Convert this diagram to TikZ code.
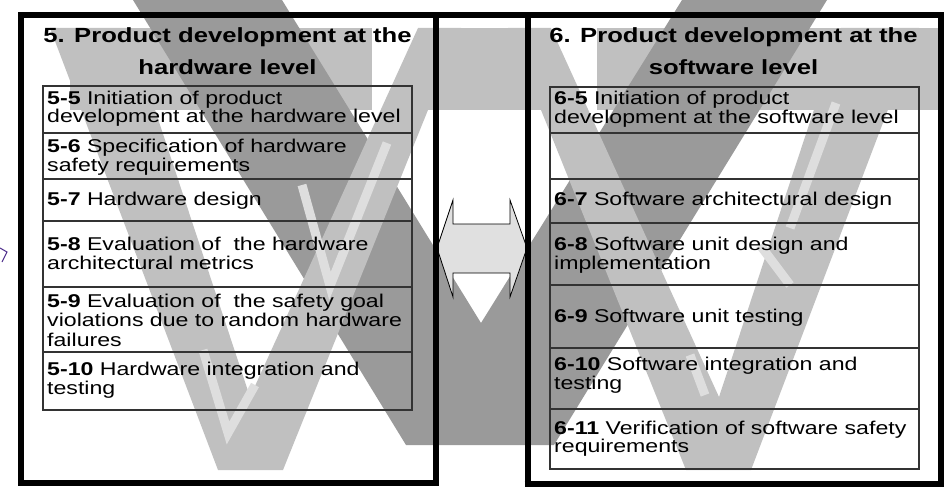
\documentclass[tikz,border=0pt]{standalone}
\usepackage{fontspec}
\setmainfont{Liberation Sans}[FakeStretch=1.25]
\definecolor{lightg}{HTML}{C0C0C0}
\definecolor{darkg}{HTML}{9A9A9A}
\definecolor{paleg}{HTML}{DEDEDE}
\definecolor{arrowg}{HTML}{E0E0E0}
\definecolor{purp}{HTML}{4B2A8A}
\begin{document}
\begin{tikzpicture}[x=1pt,y=-1pt,
  tabline/.style={draw=black!80, line width=1.2pt},
  frameline/.style={draw=black, line width=6pt},
  body/.style={anchor=base west, inner sep=0pt, font=\fontsize{18.5}{19}\selectfont},
  head/.style={anchor=base, inner sep=0pt, font=\fontsize{20.5}{24}\selectfont\bfseries},
  palev/.style={draw=paleg, line width=9pt},
]
\useasboundingbox (0,0) rectangle (946,487);
% ---------- background watermark ----------
% top bands
\fill[lightg] (70,28) rectangle (372,110);
\fill[lightg] (418,28) rectangle (551,110);
\fill[lightg] (597,28) rectangle (941,110);
% large dark V
\fill[darkg] (133,0) -- (282,0) -- (481,323) -- (682,0) -- (827,0) -- (554,445) -- (406,445) -- cycle;
% light V, left panel
\fill[lightg] (50,28) -- (128,28) -- (250,397) -- (418,28) -- (461,28) -- (283,470) -- (218,470) -- cycle;
% light V, right panel
\fill[lightg] (919,28) -- (841,28) -- (719,397) -- (551,28) -- (508,28) -- (686,470) -- (751,470) -- cycle;
% pale small V strokes
\draw[palev] (302,185) -- (330,286) -- (387,143);
\draw[palev] (203,350) -- (228,433) -- (255,385);
\draw[palev] (836,103) -- (790,228);
\draw[palev] (760,245) -- (790,285);
\draw[palev] (690,355) -- (705,395);
% ---------- purple fragment ----------
\draw[purp, line width=1pt] (0,248) -- (7,252) -- (2,262);
% ---------- double arrow ----------
\draw[black, line width=0.8pt, fill=arrowg] (437,248) -- (453,200) -- (453,224) -- (510,224) -- (510,200) -- (527,248) -- (510,297) -- (510,273) -- (453,273) -- (453,297) -- cycle;
% ---------- panel frames ----------
\draw[frameline] (21,483) -- (21,15) -- (941,15) -- (941,484);
\draw[frameline] (18,483) -- (439,483);
\draw[frameline] (436,15) -- (436,486);
\draw[frameline] (527.5,15) -- (527.5,486);
\draw[frameline] (524.5,484) -- (944,484);
% ---------- left table ----------
\draw[tabline] (43,86) rectangle (412,410);
\foreach \yy in {133,179,221,287,352} \draw[tabline] (43,\yy) -- (412,\yy);
% ---------- right table ----------
\draw[tabline] (550,87) rectangle (919,469);
\foreach \yy in {133,179,223,285,348,409} \draw[tabline] (550,\yy) -- (919,\yy);
% ---------- titles ----------
\node[head] (h5a) at (227.5,43) {5. Product development at the};
\node[head] (h5b) at (227.5,75) {hardware level};
\node[head] (h6a) at (733.5,43) {6. Product development at the};
\node[head] (h6b) at (733.5,75) {software level};
% ---------- left texts ----------
\node[body] (a1) at (47,104) {\textbf{5-5} Initiation of product};
\node[body] (a2) at (47,123) {development at the hardware level};
\node[body] (b1) at (47,153) {\textbf{5-6} Specification of hardware};
\node[body] (b2) at (47,171) {safety requirements};
\node[body] (c1) at (47,205) {\textbf{5-7} Hardware design};
\node[body] (d1) at (47,250) {\textbf{5-8} Evaluation of\ \ the hardware};
\node[body] (d2) at (47,269) {architectural metrics};
\node[body] (e1) at (47,307) {\textbf{5-9} Evaluation of\ \ the safety goal};
\node[body] (e2) at (47,326) {violations due to random hardware};
\node[body] (e3) at (47,346) {failures};
\node[body] (f1) at (47,375) {\textbf{5-10} Hardware integration and};
\node[body] (f2) at (47,394) {testing};
% ---------- right texts ----------
\node[body] (g1) at (554,105) {\textbf{6-5} Initiation of product};
\node[body] (g2) at (554,124) {development at the software level};
\node[body] (i1) at (554,205) {\textbf{6-7} Software architectural design};
\node[body] (j1) at (554,250) {\textbf{6-8} Software unit design and};
\node[body] (j2) at (554,269) {implementation};
\node[body] (k1) at (554,322) {\textbf{6-9} Software unit testing};
\node[body] (l1) at (554,370) {\textbf{6-10} Software integration and};
\node[body] (l2) at (554,389) {testing};
\node[body] (m1) at (554,434) {\textbf{6-11} Verification of software safety};
\node[body] (m2) at (554,452) {requirements};
\end{tikzpicture}
\end{document}
